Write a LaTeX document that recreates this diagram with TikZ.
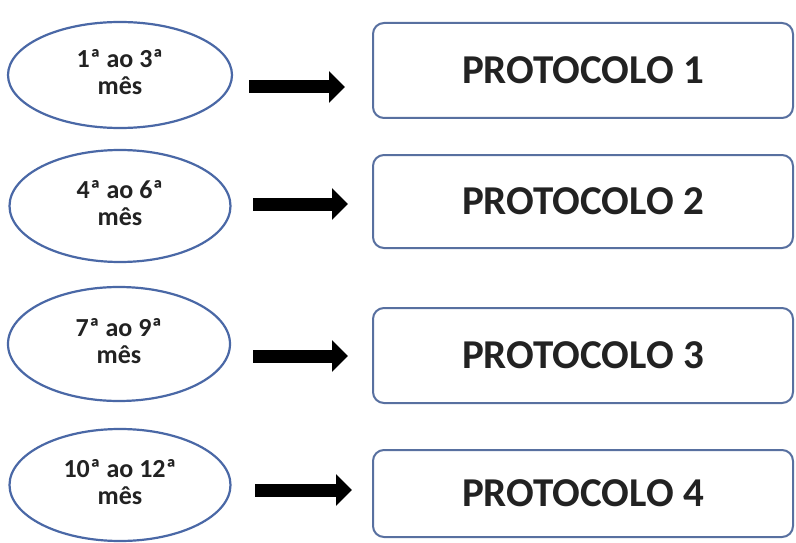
\documentclass[tikz,border=0pt]{standalone}
\usepackage{fontspec}
\setmainfont{Carlito}
\usetikzlibrary{shapes.geometric,arrows.meta}
\definecolor{ellblue}{HTML}{4A68A6}
\definecolor{boxblue}{HTML}{5870A0}
\definecolor{txt}{HTML}{222222}
\newcommand{\mtext}[2]{\raisebox{6pt}{\begin{tabular}{@{}c@{}}#1\\[-1pt]#2\end{tabular}}}
\begin{document}
\begin{tikzpicture}[x=1pt,y=-1pt,
  month/.style={ellipse, draw=ellblue, line width=2.2pt, inner sep=0pt, text=txt,
    font=\bfseries\fontsize{26}{28}\selectfont, fill=white},
  proto/.style={rounded corners=11pt, draw=boxblue, line width=2pt, inner sep=0pt, text=txt,
    minimum width=420pt, font=\bfseries\fontsize{41}{44}\selectfont, fill=white},
  bigarrow/.style={line width=13pt, -{Triangle[length=16pt,width=31pt]}, black}]
\fill[white] (0,0) rectangle (796,543);
\useasboundingbox (0,0) rectangle (796,543);
% row 1
\node[month, minimum width=224pt, minimum height=106pt] (e1) at (120,75) {\mtext{1ª ao 3ª}{mês}};
\node[proto, minimum height=95pt] (p1) at (583,70.5) {PROTOCOLO 1};
\coordinate (a1s) at (249,87); \coordinate (a1e) at (345,87);
\draw[bigarrow] (a1s) -- (a1e);
% row 2
\node[month, minimum width=221pt, minimum height=112pt] (e2) at (120,206) {\mtext{4ª ao 6ª}{mês}};
\node[proto, minimum height=93pt] (p2) at (583,201.5) {PROTOCOLO 2};
\coordinate (a2s) at (253,204); \coordinate (a2e) at (348,204);
\draw[bigarrow] (a2s) -- (a2e);
% row 3
\node[month, minimum width=222pt, minimum height=114pt] (e3) at (119,344) {\mtext{7ª ao 9ª}{mês}};
\node[proto, minimum height=95pt] (p3) at (583,355.5) {PROTOCOLO 3};
\coordinate (a3s) at (253,356); \coordinate (a3e) at (348,356);
\draw[bigarrow] (a3s) -- (a3e);
% row 4
\node[month, minimum width=221pt, minimum height=112pt] (e4) at (120,485) {\mtext{10ª ao 12ª}{mês}};
\node[proto, minimum height=87pt] (p4) at (583,493.5) {PROTOCOLO 4};
\coordinate (a4s) at (255,490); \coordinate (a4e) at (352,490);
\draw[bigarrow] (a4s) -- (a4e);
\end{tikzpicture}
\end{document}
